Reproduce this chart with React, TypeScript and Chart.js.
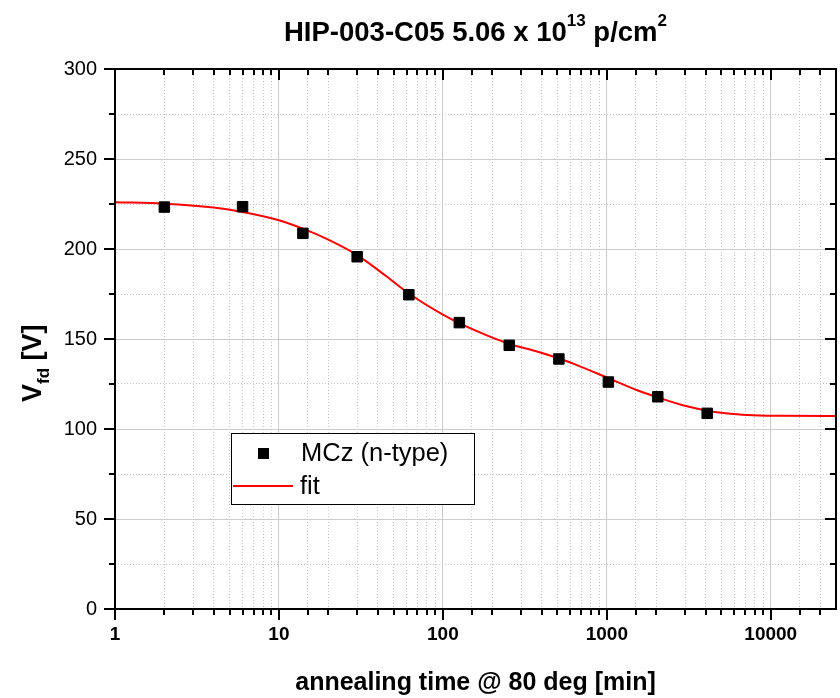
import React, { useEffect, useRef } from "react";
import { Chart, registerables } from "chart.js";

Chart.register(...registerables);

// ---- data ----
const annealTimes = [2, 6, 14, 30, 62, 126, 254, 510, 1022, 2046, 4094];
const vfdValues = [223.3, 223.5, 208.7, 195.7, 174.6, 159.1, 146.5, 138.9, 126.1, 117.9, 108.7];
const fitTimes = [1, 2, 4, 6, 10, 14, 20, 30, 45, 62, 100, 160, 256, 366, 512, 640, 1000, 1535, 2100, 3080, 4100, 5900, 7800, 12000, 25000];
const fitValues = [226.0, 225.2, 223.0, 220.6, 216.0, 211.3, 205.2, 196.6, 185.0, 175.3, 163.6, 154.5, 147.2, 143.3, 139.2, 135.9, 128.6, 121.5, 117.2, 112.6, 110.2, 108.4, 107.7, 107.3, 107.2];
const xTickLabels = [1, 10, 100, 1000, 10000];
const yTickLabels = [0, 50, 100, 150, 200, 250, 300];
const seriesNames = ["MCz (n-type)", "fit"];
const titleParts = [
  { text: "HIP-003-C05 5.06 x 10", sup: false },
  { text: "13", sup: true },
  { text: " p/cm", sup: false },
  { text: "2", sup: true },
];
const xTitle = "annealing time @ 80 deg [min]";
const yTitleParts = [
  { text: "V", sub: false },
  { text: "fd", sub: true },
  { text: " [V]", sub: false },
];

const FONT = '"Liberation Sans", Arial, Helvetica, sans-serif';

const isDecade = (v: number) => {
  const l = Math.log10(v);
  return Math.abs(l - Math.round(l)) < 1e-9;
};

const decorPlugin = {
  id: "decor",
  afterDraw(chart: any) {
    const { ctx, chartArea: a, scales } = chart;
    const xs = scales.x;
    const ys = scales.y;
    ctx.save();

    // axis box
    ctx.strokeStyle = "#000";
    ctx.lineWidth = 2;
    ctx.strokeRect(a.left, a.top, a.right - a.left, a.bottom - a.top);

    // tick marks (outside on left/bottom, inside on top/right)
    ctx.lineWidth = 2;
    ctx.beginPath();
    xs.ticks.forEach((t: any) => {
      if (t.value >= xs.max) return;
      const px = Math.round(xs.getPixelForValue(t.value));
      const len = isDecade(t.value) ? 11 : 6;
      ctx.moveTo(px, a.bottom);
      ctx.lineTo(px, a.bottom + len);
      ctx.moveTo(px, a.top);
      ctx.lineTo(px, a.top + len);
    });
    ys.ticks.forEach((t: any) => {
      const py = Math.round(ys.getPixelForValue(t.value));
      const len = t.value % 50 === 0 ? 11 : 6;
      ctx.moveTo(a.left, py);
      ctx.lineTo(a.left - len, py);
      ctx.moveTo(a.right, py);
      ctx.lineTo(a.right - len, py);
    });
    ctx.stroke();

    ctx.fillStyle = "#000";
    ctx.textBaseline = "alphabetic";

    // title with superscripts
    const mainFont = `bold 27.5px ${FONT}`;
    const supFont = `bold 17px ${FONT}`;
    let total = 0;
    titleParts.forEach((p) => {
      ctx.font = p.sup ? supFont : mainFont;
      total += ctx.measureText(p.text).width;
    });
    let tx = (a.left + a.right) / 2 - total / 2;
    const tBase = 41;
    titleParts.forEach((p) => {
      ctx.font = p.sup ? supFont : mainFont;
      ctx.textAlign = "left";
      ctx.fillText(p.text, tx, p.sup ? tBase - 15 : tBase);
      tx += ctx.measureText(p.text).width;
    });

    // x axis title
    ctx.font = `bold 25px ${FONT}`;
    ctx.textAlign = "center";
    ctx.fillText(xTitle, (a.left + a.right) / 2, 690);

    // y axis title (rotated, with subscript)
    ctx.save();
    ctx.translate(41, 402);
    ctx.rotate(-Math.PI / 2);
    ctx.textAlign = "left";
    let yx = 0;
    yTitleParts.forEach((p) => {
      ctx.font = p.sub ? `bold 17px ${FONT}` : `bold 27px ${FONT}`;
      ctx.fillText(p.text, yx, p.sub ? 8 : 0);
      yx += ctx.measureText(p.text).width;
    });
    ctx.restore();

    // legend
    const lx = 231, ly = 433, lw = 243, lh = 71;
    ctx.fillStyle = "#fff";
    ctx.fillRect(lx, ly, lw, lh);
    ctx.strokeStyle = "#000";
    ctx.lineWidth = 1;
    ctx.strokeRect(lx + 0.5, ly + 0.5, lw, lh);
    const ds0 = chart.data.datasets[0];
    const ds1 = chart.data.datasets[1];
    ctx.fillStyle = ds0.backgroundColor;
    ctx.fillRect(lx + 27, ly + 15, 11, 11);
    ctx.strokeStyle = ds1.borderColor;
    ctx.lineWidth = 2;
    ctx.beginPath();
    ctx.moveTo(lx + 2, ly + 53);
    ctx.lineTo(lx + 62, ly + 53);
    ctx.stroke();
    ctx.fillStyle = "#000";
    ctx.font = `25.5px ${FONT}`;
    ctx.textAlign = "left";
    ctx.textBaseline = "middle";
    ctx.fillText(ds0.label, lx + 70, ly + 21);
    ctx.fillText(ds1.label, lx + 69, ly + 54);

    ctx.restore();
  },
};

export default function App() {
  const canvasRef = useRef<HTMLCanvasElement | null>(null);

  useEffect(() => {
    document.body.style.margin = "0";
    document.body.style.overflow = "hidden";
    const canvas = canvasRef.current;
    if (!canvas) return;

    const chart = new Chart(canvas, {
      type: "line",
      data: {
        datasets: [
          {
            label: seriesNames[0],
            data: annealTimes.map((t, i) => ({ x: t, y: vfdValues[i] })),
            showLine: false,
            pointStyle: "rect",
            pointRadius: 7.4,
            pointHoverRadius: 7.4,
            backgroundColor: "#000000",
            borderColor: "#000000",
            borderWidth: 1,
            order: 0,
          },
          {
            label: seriesNames[1],
            data: fitTimes.map((t, i) => ({ x: t, y: fitValues[i] })),
            borderColor: "#ff0000",
            borderWidth: 2,
            pointRadius: 0,
            fill: false,
            cubicInterpolationMode: "monotone",
            order: 1,
          },
        ],
      },
      options: {
        responsive: false,
        animation: false,
        devicePixelRatio: 1,
        events: [],
        layout: { padding: { top: 69, right: 6, left: 0, bottom: 0 } },
        plugins: {
          legend: { display: false },
          title: { display: false },
          tooltip: { enabled: false },
        },
        scales: {
          x: {
            type: "logarithmic",
            min: 1,
            max: 25000,
            afterFit: (s: any) => {
              s.height = 89;
            },
            border: {
              display: false,
              dash: (c: any) => (c.tick && !isDecade(c.tick.value) ? [1, 2] : []),
            },
            grid: {
              drawTicks: false,
              lineWidth: 1,
              color: (c: any) => (c.tick && isDecade(c.tick.value) ? "#cccccc" : "#c4c4c4"),
            },
            ticks: {
              autoSkip: false,
              maxRotation: 0,
              padding: 14,
              color: "#000",
              font: { family: FONT, size: 19, weight: "bold" },
              callback: (v: any) => (xTickLabels.includes(Number(v)) ? String(v) : ""),
            },
          },
          y: {
            type: "linear",
            min: 0,
            max: 300,
            afterFit: (s: any) => {
              s.width = 115;
            },
            border: {
              display: false,
              dash: (c: any) => (c.tick && c.tick.value % 50 !== 0 ? [1, 2] : []),
            },
            grid: {
              drawTicks: false,
              lineWidth: 1,
              color: (c: any) => (c.tick && c.tick.value % 50 === 0 ? "#cccccc" : "#c4c4c4"),
            },
            ticks: {
              stepSize: 25,
              autoSkip: false,
              padding: 18,
              color: "#000",
              font: { family: FONT, size: 20 },
              callback: (v: any) => (yTickLabels.includes(Number(v)) ? String(v) : ""),
            },
          },
        },
      },
      plugins: [decorPlugin],
    } as any);

    return () => chart.destroy();
  }, []);

  return (
    <div style={{ position: "fixed", left: 0, top: 0, width: 850, height: 698, background: "#fff" }}>
      <canvas ref={canvasRef} width={850} height={698} style={{ width: 850, height: 698, display: "block" }} />
    </div>
  );
}
